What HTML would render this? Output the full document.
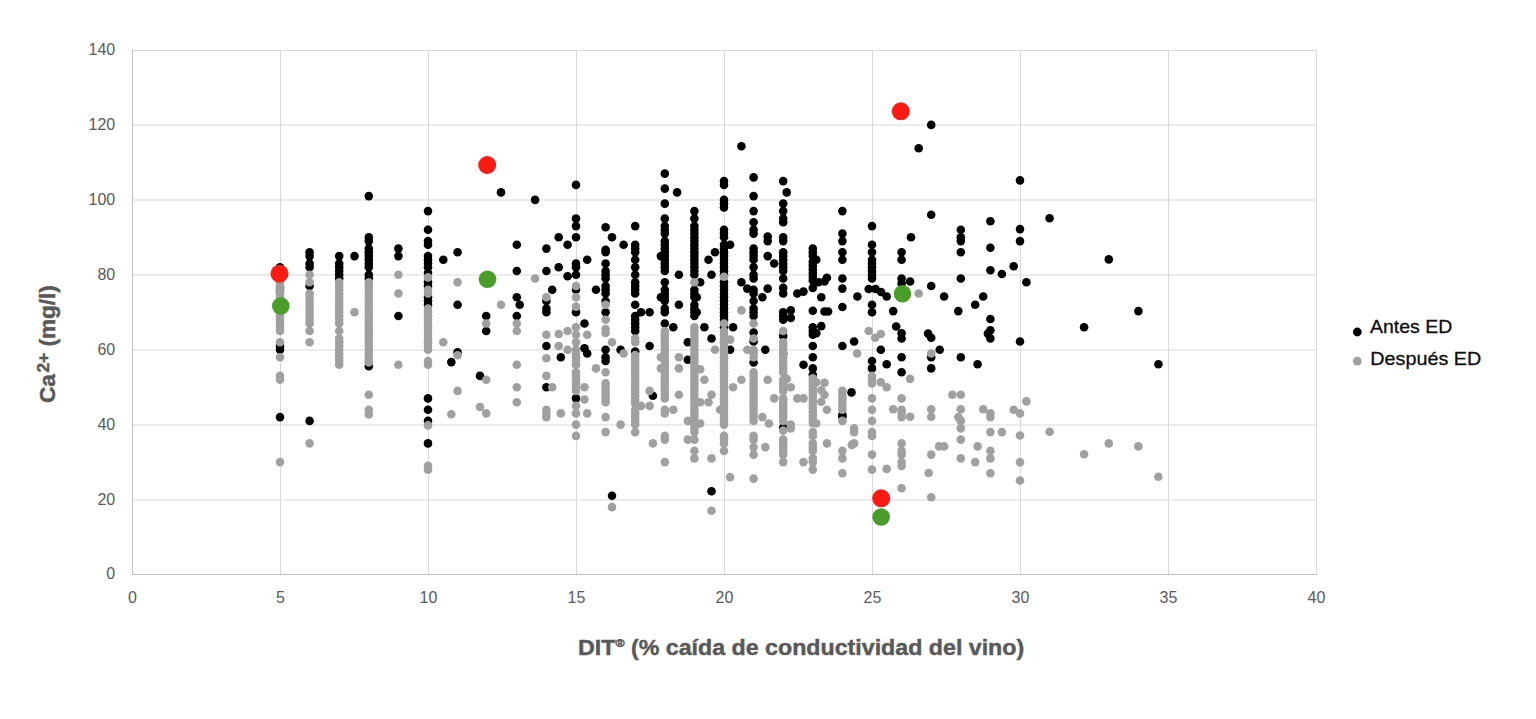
<!DOCTYPE html>
<html><head><meta charset="utf-8"><title>chart</title>
<style>
html,body{margin:0;padding:0;background:#fff;}
body{width:1536px;height:719px;overflow:hidden;font-family:"Liberation Sans",sans-serif;}
svg{display:block}
text{font-family:"Liberation Sans",sans-serif;}
.tk{font-size:16px;fill:#595959;}
.ttl{font-size:21.5px;font-weight:bold;fill:#595959;stroke:#595959;stroke-width:0.45px;}
.lg{font-size:19px;fill:#0d0d0d;stroke:#0d0d0d;stroke-width:0.3px;}
</style></head><body>
<svg width="1536" height="719" viewBox="0 0 1536 719">
<rect width="1536" height="719" fill="#fff"/>

<line x1="132.5" x2="1316.5" y1="574.50" y2="574.50" stroke="#d9d9d9" stroke-width="1"/>
<line x1="132.5" x2="1316.5" y1="500.00" y2="500.00" stroke="#d9d9d9" stroke-width="1"/>
<line x1="132.5" x2="1316.5" y1="425.00" y2="425.00" stroke="#d9d9d9" stroke-width="1"/>
<line x1="132.5" x2="1316.5" y1="350.00" y2="350.00" stroke="#d9d9d9" stroke-width="1"/>
<line x1="132.5" x2="1316.5" y1="275.00" y2="275.00" stroke="#d9d9d9" stroke-width="1"/>
<line x1="132.5" x2="1316.5" y1="200.00" y2="200.00" stroke="#d9d9d9" stroke-width="1"/>
<line x1="132.5" x2="1316.5" y1="125.00" y2="125.00" stroke="#d9d9d9" stroke-width="1"/>
<line x1="132.5" x2="1316.5" y1="50.50" y2="50.50" stroke="#d9d9d9" stroke-width="1"/>
<line x1="132.50" x2="132.50" y1="50.0" y2="574.5" stroke="#d9d9d9" stroke-width="1"/>
<line x1="280.50" x2="280.50" y1="50.0" y2="574.5" stroke="#d9d9d9" stroke-width="1"/>
<line x1="428.50" x2="428.50" y1="50.0" y2="574.5" stroke="#d9d9d9" stroke-width="1"/>
<line x1="576.50" x2="576.50" y1="50.0" y2="574.5" stroke="#d9d9d9" stroke-width="1"/>
<line x1="724.50" x2="724.50" y1="50.0" y2="574.5" stroke="#d9d9d9" stroke-width="1"/>
<line x1="872.50" x2="872.50" y1="50.0" y2="574.5" stroke="#d9d9d9" stroke-width="1"/>
<line x1="1020.50" x2="1020.50" y1="50.0" y2="574.5" stroke="#d9d9d9" stroke-width="1"/>
<line x1="1168.50" x2="1168.50" y1="50.0" y2="574.5" stroke="#d9d9d9" stroke-width="1"/>
<line x1="1316.50" x2="1316.50" y1="50.0" y2="574.5" stroke="#d9d9d9" stroke-width="1"/>
<line x1="132.5" x2="132.5" y1="50.0" y2="574.5" stroke="#bfbfbf" stroke-width="1"/>
<line x1="132.5" x2="1316.5" y1="574.5" y2="574.5" stroke="#bfbfbf" stroke-width="1"/>
<text class="tk" x="115.2" y="579.2" text-anchor="end">0</text>
<text class="tk" x="115.2" y="504.7" text-anchor="end">20</text>
<text class="tk" x="115.2" y="429.7" text-anchor="end">40</text>
<text class="tk" x="115.2" y="354.7" text-anchor="end">60</text>
<text class="tk" x="115.2" y="279.7" text-anchor="end">80</text>
<text class="tk" x="115.2" y="204.7" text-anchor="end">100</text>
<text class="tk" x="115.2" y="129.7" text-anchor="end">120</text>
<text class="tk" x="115.2" y="55.2" text-anchor="end">140</text>
<text class="tk" x="132.5" y="603" text-anchor="middle">0</text>
<text class="tk" x="280.5" y="603" text-anchor="middle">5</text>
<text class="tk" x="428.5" y="603" text-anchor="middle">10</text>
<text class="tk" x="576.5" y="603" text-anchor="middle">15</text>
<text class="tk" x="724.5" y="603" text-anchor="middle">20</text>
<text class="tk" x="872.5" y="603" text-anchor="middle">25</text>
<text class="tk" x="1020.5" y="603" text-anchor="middle">30</text>
<text class="tk" x="1168.5" y="603" text-anchor="middle">35</text>
<text class="tk" x="1316.5" y="603" text-anchor="middle">40</text>
<g fill="#000">
<circle cx="280.0" cy="267.3" r="4.3"/>
<circle cx="280.0" cy="287.9" r="4.3"/>
<circle cx="280.0" cy="291.6" r="4.3"/>
<circle cx="280.0" cy="346.0" r="4.3"/>
<circle cx="280.0" cy="349.7" r="4.3"/>
<circle cx="280.0" cy="417.1" r="4.3"/>
<circle cx="309.6" cy="252.3" r="4.3"/>
<circle cx="309.6" cy="256.1" r="4.3"/>
<circle cx="309.6" cy="263.5" r="4.3"/>
<circle cx="309.6" cy="267.3" r="4.3"/>
<circle cx="309.6" cy="286.0" r="4.3"/>
<circle cx="309.6" cy="420.9" r="4.3"/>
<circle cx="339.2" cy="256.1" r="4.3"/>
<circle cx="339.2" cy="263.5" r="4.3"/>
<circle cx="339.2" cy="267.3" r="4.3"/>
<circle cx="339.2" cy="271.0" r="4.3"/>
<circle cx="339.2" cy="274.8" r="4.3"/>
<circle cx="339.2" cy="278.5" r="4.3"/>
<circle cx="354.5" cy="256.1" r="4.3"/>
<circle cx="368.8" cy="196.1" r="4.3"/>
<circle cx="368.8" cy="237.3" r="4.3"/>
<circle cx="368.8" cy="241.1" r="4.3"/>
<circle cx="368.8" cy="248.6" r="4.3"/>
<circle cx="368.8" cy="252.3" r="4.3"/>
<circle cx="368.8" cy="256.1" r="4.3"/>
<circle cx="368.8" cy="259.8" r="4.3"/>
<circle cx="368.8" cy="263.5" r="4.3"/>
<circle cx="368.8" cy="267.3" r="4.3"/>
<circle cx="368.8" cy="274.8" r="4.3"/>
<circle cx="368.8" cy="278.5" r="4.3"/>
<circle cx="368.8" cy="366.2" r="4.3"/>
<circle cx="398.4" cy="248.6" r="4.3"/>
<circle cx="398.4" cy="256.1" r="4.3"/>
<circle cx="398.4" cy="316.0" r="4.3"/>
<circle cx="428.0" cy="211.1" r="4.3"/>
<circle cx="428.0" cy="229.8" r="4.3"/>
<circle cx="428.0" cy="241.1" r="4.3"/>
<circle cx="428.0" cy="244.8" r="4.3"/>
<circle cx="428.0" cy="256.1" r="4.3"/>
<circle cx="428.0" cy="259.8" r="4.3"/>
<circle cx="428.0" cy="263.5" r="4.3"/>
<circle cx="428.0" cy="267.3" r="4.3"/>
<circle cx="428.0" cy="272.9" r="4.3"/>
<circle cx="428.0" cy="282.3" r="4.3"/>
<circle cx="428.0" cy="286.0" r="4.3"/>
<circle cx="428.0" cy="297.3" r="4.3"/>
<circle cx="428.0" cy="301.0" r="4.3"/>
<circle cx="428.0" cy="304.8" r="4.3"/>
<circle cx="428.0" cy="398.4" r="4.3"/>
<circle cx="428.0" cy="409.7" r="4.3"/>
<circle cx="428.0" cy="420.9" r="4.3"/>
<circle cx="428.0" cy="443.4" r="4.3"/>
<circle cx="443.3" cy="259.8" r="4.3"/>
<circle cx="457.6" cy="252.3" r="4.3"/>
<circle cx="457.6" cy="304.8" r="4.3"/>
<circle cx="457.6" cy="352.3" r="4.3"/>
<circle cx="451.3" cy="362.1" r="4.3"/>
<circle cx="480.0" cy="375.9" r="4.3"/>
<circle cx="486.2" cy="316.0" r="4.3"/>
<circle cx="486.2" cy="331.0" r="4.3"/>
<circle cx="501.0" cy="192.4" r="4.3"/>
<circle cx="516.8" cy="244.8" r="4.3"/>
<circle cx="516.8" cy="271.0" r="4.3"/>
<circle cx="516.8" cy="297.3" r="4.3"/>
<circle cx="516.8" cy="316.0" r="4.3"/>
<circle cx="519.7" cy="304.8" r="4.3"/>
<circle cx="535.1" cy="199.9" r="4.3"/>
<circle cx="546.4" cy="248.6" r="4.3"/>
<circle cx="546.4" cy="271.0" r="4.3"/>
<circle cx="546.4" cy="301.0" r="4.3"/>
<circle cx="546.4" cy="308.5" r="4.3"/>
<circle cx="546.4" cy="312.2" r="4.3"/>
<circle cx="546.4" cy="346.0" r="4.3"/>
<circle cx="552.2" cy="289.8" r="4.3"/>
<circle cx="558.7" cy="237.3" r="4.3"/>
<circle cx="558.7" cy="267.3" r="4.3"/>
<circle cx="567.6" cy="244.8" r="4.3"/>
<circle cx="567.6" cy="276.3" r="4.3"/>
<circle cx="560.8" cy="357.2" r="4.3"/>
<circle cx="576.0" cy="184.9" r="4.3"/>
<circle cx="576.0" cy="218.6" r="4.3"/>
<circle cx="576.0" cy="226.1" r="4.3"/>
<circle cx="576.0" cy="237.3" r="4.3"/>
<circle cx="576.0" cy="263.5" r="4.3"/>
<circle cx="576.0" cy="267.3" r="4.3"/>
<circle cx="576.0" cy="274.8" r="4.3"/>
<circle cx="576.0" cy="289.8" r="4.3"/>
<circle cx="576.0" cy="312.2" r="4.3"/>
<circle cx="576.0" cy="398.4" r="4.3"/>
<circle cx="584.5" cy="323.5" r="4.3"/>
<circle cx="584.5" cy="348.2" r="4.3"/>
<circle cx="587.2" cy="259.8" r="4.3"/>
<circle cx="587.2" cy="353.5" r="4.3"/>
<circle cx="596.0" cy="289.8" r="4.3"/>
<circle cx="605.6" cy="227.2" r="4.3"/>
<circle cx="605.6" cy="249.7" r="4.3"/>
<circle cx="605.6" cy="252.3" r="4.3"/>
<circle cx="605.6" cy="263.5" r="4.3"/>
<circle cx="605.6" cy="271.0" r="4.3"/>
<circle cx="605.6" cy="274.8" r="4.3"/>
<circle cx="605.6" cy="278.5" r="4.3"/>
<circle cx="605.6" cy="286.0" r="4.3"/>
<circle cx="605.6" cy="289.8" r="4.3"/>
<circle cx="605.6" cy="293.5" r="4.3"/>
<circle cx="605.6" cy="301.0" r="4.3"/>
<circle cx="605.6" cy="312.2" r="4.3"/>
<circle cx="605.6" cy="349.7" r="4.3"/>
<circle cx="605.6" cy="357.2" r="4.3"/>
<circle cx="605.6" cy="361.0" r="4.3"/>
<circle cx="612.0" cy="237.3" r="4.3"/>
<circle cx="612.0" cy="495.8" r="4.3"/>
<circle cx="620.6" cy="349.7" r="4.3"/>
<circle cx="623.6" cy="244.8" r="4.3"/>
<circle cx="635.2" cy="226.1" r="4.3"/>
<circle cx="635.2" cy="244.8" r="4.3"/>
<circle cx="635.2" cy="248.6" r="4.3"/>
<circle cx="635.2" cy="252.3" r="4.3"/>
<circle cx="635.2" cy="259.8" r="4.3"/>
<circle cx="635.2" cy="267.3" r="4.3"/>
<circle cx="635.2" cy="274.8" r="4.3"/>
<circle cx="635.2" cy="282.3" r="4.3"/>
<circle cx="635.2" cy="286.0" r="4.3"/>
<circle cx="635.2" cy="289.8" r="4.3"/>
<circle cx="635.2" cy="293.5" r="4.3"/>
<circle cx="635.2" cy="304.8" r="4.3"/>
<circle cx="635.2" cy="316.0" r="4.3"/>
<circle cx="635.2" cy="319.7" r="4.3"/>
<circle cx="635.2" cy="323.5" r="4.3"/>
<circle cx="635.2" cy="327.2" r="4.3"/>
<circle cx="635.2" cy="331.0" r="4.3"/>
<circle cx="635.2" cy="351.6" r="4.3"/>
<circle cx="641.0" cy="312.2" r="4.3"/>
<circle cx="649.6" cy="312.2" r="4.3"/>
<circle cx="649.6" cy="346.0" r="4.3"/>
<circle cx="652.9" cy="395.8" r="4.3"/>
<circle cx="664.8" cy="173.6" r="4.3"/>
<circle cx="664.8" cy="188.6" r="4.3"/>
<circle cx="664.8" cy="203.6" r="4.3"/>
<circle cx="664.8" cy="218.6" r="4.3"/>
<circle cx="664.8" cy="226.1" r="4.3"/>
<circle cx="664.8" cy="229.8" r="4.3"/>
<circle cx="664.8" cy="233.6" r="4.3"/>
<circle cx="664.8" cy="241.1" r="4.3"/>
<circle cx="664.8" cy="244.8" r="4.3"/>
<circle cx="664.8" cy="248.6" r="4.3"/>
<circle cx="664.8" cy="252.3" r="4.3"/>
<circle cx="664.8" cy="256.1" r="4.3"/>
<circle cx="664.8" cy="259.8" r="4.3"/>
<circle cx="664.8" cy="263.5" r="4.3"/>
<circle cx="664.8" cy="267.3" r="4.3"/>
<circle cx="664.8" cy="271.0" r="4.3"/>
<circle cx="664.8" cy="282.3" r="4.3"/>
<circle cx="664.8" cy="289.8" r="4.3"/>
<circle cx="664.8" cy="293.5" r="4.3"/>
<circle cx="664.8" cy="297.3" r="4.3"/>
<circle cx="664.8" cy="301.0" r="4.3"/>
<circle cx="664.8" cy="308.5" r="4.3"/>
<circle cx="664.8" cy="312.2" r="4.3"/>
<circle cx="664.8" cy="323.5" r="4.3"/>
<circle cx="660.9" cy="256.1" r="4.3"/>
<circle cx="660.9" cy="297.3" r="4.3"/>
<circle cx="677.1" cy="192.4" r="4.3"/>
<circle cx="673.3" cy="327.2" r="4.3"/>
<circle cx="678.9" cy="274.8" r="4.3"/>
<circle cx="678.9" cy="304.8" r="4.3"/>
<circle cx="687.8" cy="342.2" r="4.3"/>
<circle cx="687.8" cy="359.8" r="4.3"/>
<circle cx="694.4" cy="211.1" r="4.3"/>
<circle cx="694.4" cy="218.6" r="4.3"/>
<circle cx="694.4" cy="226.1" r="4.3"/>
<circle cx="694.4" cy="229.8" r="4.3"/>
<circle cx="694.4" cy="233.6" r="4.3"/>
<circle cx="694.4" cy="237.3" r="4.3"/>
<circle cx="694.4" cy="241.1" r="4.3"/>
<circle cx="694.4" cy="244.8" r="4.3"/>
<circle cx="694.4" cy="248.6" r="4.3"/>
<circle cx="694.4" cy="252.3" r="4.3"/>
<circle cx="694.4" cy="256.1" r="4.3"/>
<circle cx="694.4" cy="259.8" r="4.3"/>
<circle cx="694.4" cy="263.5" r="4.3"/>
<circle cx="694.4" cy="267.3" r="4.3"/>
<circle cx="694.4" cy="271.0" r="4.3"/>
<circle cx="694.4" cy="274.8" r="4.3"/>
<circle cx="694.4" cy="289.8" r="4.3"/>
<circle cx="694.4" cy="293.5" r="4.3"/>
<circle cx="694.4" cy="297.3" r="4.3"/>
<circle cx="694.4" cy="304.8" r="4.3"/>
<circle cx="694.4" cy="308.5" r="4.3"/>
<circle cx="694.4" cy="312.2" r="4.3"/>
<circle cx="694.4" cy="316.0" r="4.3"/>
<circle cx="696.7" cy="297.3" r="4.3"/>
<circle cx="696.7" cy="312.2" r="4.3"/>
<circle cx="700.2" cy="282.3" r="4.3"/>
<circle cx="704.4" cy="327.2" r="4.3"/>
<circle cx="708.5" cy="259.8" r="4.3"/>
<circle cx="711.5" cy="274.8" r="4.3"/>
<circle cx="711.5" cy="338.5" r="4.3"/>
<circle cx="711.5" cy="491.3" r="4.3"/>
<circle cx="715.0" cy="252.3" r="4.3"/>
<circle cx="724.0" cy="181.1" r="4.3"/>
<circle cx="724.0" cy="184.9" r="4.3"/>
<circle cx="724.0" cy="199.9" r="4.3"/>
<circle cx="724.0" cy="203.6" r="4.3"/>
<circle cx="724.0" cy="207.4" r="4.3"/>
<circle cx="724.0" cy="229.8" r="4.3"/>
<circle cx="724.0" cy="233.6" r="4.3"/>
<circle cx="724.0" cy="237.3" r="4.3"/>
<circle cx="724.0" cy="244.8" r="4.3"/>
<circle cx="724.0" cy="248.6" r="4.3"/>
<circle cx="724.0" cy="252.3" r="4.3"/>
<circle cx="724.0" cy="256.1" r="4.3"/>
<circle cx="724.0" cy="259.8" r="4.3"/>
<circle cx="724.0" cy="263.5" r="4.3"/>
<circle cx="724.0" cy="267.3" r="4.3"/>
<circle cx="724.0" cy="271.0" r="4.3"/>
<circle cx="724.0" cy="274.8" r="4.3"/>
<circle cx="724.0" cy="282.3" r="4.3"/>
<circle cx="724.0" cy="286.0" r="4.3"/>
<circle cx="724.0" cy="289.8" r="4.3"/>
<circle cx="724.0" cy="293.5" r="4.3"/>
<circle cx="724.0" cy="297.3" r="4.3"/>
<circle cx="724.0" cy="301.0" r="4.3"/>
<circle cx="724.0" cy="304.8" r="4.3"/>
<circle cx="724.0" cy="308.5" r="4.3"/>
<circle cx="724.0" cy="312.2" r="4.3"/>
<circle cx="724.0" cy="316.0" r="4.3"/>
<circle cx="724.0" cy="319.7" r="4.3"/>
<circle cx="724.0" cy="327.2" r="4.3"/>
<circle cx="730.1" cy="244.8" r="4.3"/>
<circle cx="730.1" cy="349.7" r="4.3"/>
<circle cx="733.1" cy="327.2" r="4.3"/>
<circle cx="741.4" cy="146.3" r="4.3"/>
<circle cx="741.4" cy="282.3" r="4.3"/>
<circle cx="747.3" cy="288.6" r="4.3"/>
<circle cx="753.6" cy="177.4" r="4.3"/>
<circle cx="753.6" cy="196.1" r="4.3"/>
<circle cx="753.6" cy="211.1" r="4.3"/>
<circle cx="753.6" cy="222.3" r="4.3"/>
<circle cx="753.6" cy="229.8" r="4.3"/>
<circle cx="753.6" cy="233.6" r="4.3"/>
<circle cx="753.6" cy="248.6" r="4.3"/>
<circle cx="753.6" cy="252.3" r="4.3"/>
<circle cx="753.6" cy="256.1" r="4.3"/>
<circle cx="753.6" cy="259.8" r="4.3"/>
<circle cx="753.6" cy="267.3" r="4.3"/>
<circle cx="753.6" cy="274.8" r="4.3"/>
<circle cx="753.6" cy="278.5" r="4.3"/>
<circle cx="753.6" cy="289.8" r="4.3"/>
<circle cx="753.6" cy="293.5" r="4.3"/>
<circle cx="753.6" cy="301.0" r="4.3"/>
<circle cx="753.6" cy="308.5" r="4.3"/>
<circle cx="753.6" cy="312.2" r="4.3"/>
<circle cx="753.6" cy="316.0" r="4.3"/>
<circle cx="753.6" cy="332.5" r="4.3"/>
<circle cx="753.6" cy="341.5" r="4.3"/>
<circle cx="753.6" cy="362.5" r="4.3"/>
<circle cx="762.4" cy="297.3" r="4.3"/>
<circle cx="767.7" cy="236.6" r="4.3"/>
<circle cx="767.7" cy="241.1" r="4.3"/>
<circle cx="767.7" cy="256.1" r="4.3"/>
<circle cx="767.7" cy="288.6" r="4.3"/>
<circle cx="774.2" cy="263.5" r="4.3"/>
<circle cx="765.3" cy="349.7" r="4.3"/>
<circle cx="783.2" cy="181.1" r="4.3"/>
<circle cx="783.2" cy="203.6" r="4.3"/>
<circle cx="783.2" cy="211.1" r="4.3"/>
<circle cx="783.2" cy="218.6" r="4.3"/>
<circle cx="783.2" cy="222.3" r="4.3"/>
<circle cx="783.2" cy="237.3" r="4.3"/>
<circle cx="783.2" cy="241.1" r="4.3"/>
<circle cx="783.2" cy="252.3" r="4.3"/>
<circle cx="783.2" cy="256.1" r="4.3"/>
<circle cx="783.2" cy="259.8" r="4.3"/>
<circle cx="783.2" cy="263.5" r="4.3"/>
<circle cx="783.2" cy="267.3" r="4.3"/>
<circle cx="783.2" cy="271.0" r="4.3"/>
<circle cx="783.2" cy="278.5" r="4.3"/>
<circle cx="783.2" cy="287.9" r="4.3"/>
<circle cx="783.2" cy="293.5" r="4.3"/>
<circle cx="783.2" cy="312.2" r="4.3"/>
<circle cx="783.2" cy="316.0" r="4.3"/>
<circle cx="783.2" cy="319.7" r="4.3"/>
<circle cx="783.2" cy="335.9" r="4.3"/>
<circle cx="783.2" cy="353.5" r="4.3"/>
<circle cx="783.2" cy="427.6" r="4.3"/>
<circle cx="786.7" cy="192.4" r="4.3"/>
<circle cx="790.8" cy="310.4" r="4.3"/>
<circle cx="790.8" cy="317.9" r="4.3"/>
<circle cx="797.3" cy="293.5" r="4.3"/>
<circle cx="803.5" cy="291.6" r="4.3"/>
<circle cx="803.5" cy="364.7" r="4.3"/>
<circle cx="812.8" cy="248.6" r="4.3"/>
<circle cx="812.8" cy="252.3" r="4.3"/>
<circle cx="812.8" cy="256.1" r="4.3"/>
<circle cx="812.8" cy="261.7" r="4.3"/>
<circle cx="812.8" cy="265.4" r="4.3"/>
<circle cx="812.8" cy="269.2" r="4.3"/>
<circle cx="812.8" cy="272.9" r="4.3"/>
<circle cx="812.8" cy="276.7" r="4.3"/>
<circle cx="812.8" cy="280.4" r="4.3"/>
<circle cx="812.8" cy="287.9" r="4.3"/>
<circle cx="812.8" cy="310.8" r="4.3"/>
<circle cx="812.8" cy="327.2" r="4.3"/>
<circle cx="812.8" cy="331.0" r="4.3"/>
<circle cx="812.8" cy="334.7" r="4.3"/>
<circle cx="812.8" cy="346.0" r="4.3"/>
<circle cx="812.8" cy="357.2" r="4.3"/>
<circle cx="812.8" cy="368.4" r="4.3"/>
<circle cx="812.8" cy="374.8" r="4.3"/>
<circle cx="816.3" cy="259.8" r="4.3"/>
<circle cx="816.3" cy="333.2" r="4.3"/>
<circle cx="818.6" cy="282.3" r="4.3"/>
<circle cx="821.3" cy="297.3" r="4.3"/>
<circle cx="821.3" cy="326.1" r="4.3"/>
<circle cx="824.5" cy="281.5" r="4.3"/>
<circle cx="824.5" cy="311.5" r="4.3"/>
<circle cx="826.9" cy="277.8" r="4.3"/>
<circle cx="828.1" cy="311.5" r="4.3"/>
<circle cx="842.4" cy="211.1" r="4.3"/>
<circle cx="842.4" cy="233.6" r="4.3"/>
<circle cx="842.4" cy="241.1" r="4.3"/>
<circle cx="842.4" cy="252.3" r="4.3"/>
<circle cx="842.4" cy="259.8" r="4.3"/>
<circle cx="842.4" cy="278.5" r="4.3"/>
<circle cx="842.4" cy="288.6" r="4.3"/>
<circle cx="842.4" cy="307.0" r="4.3"/>
<circle cx="842.4" cy="346.0" r="4.3"/>
<circle cx="842.4" cy="414.9" r="4.3"/>
<circle cx="842.4" cy="416.8" r="4.3"/>
<circle cx="851.5" cy="392.4" r="4.3"/>
<circle cx="854.1" cy="341.5" r="4.3"/>
<circle cx="857.4" cy="296.5" r="4.3"/>
<circle cx="872.0" cy="226.1" r="4.3"/>
<circle cx="872.0" cy="244.8" r="4.3"/>
<circle cx="872.0" cy="252.3" r="4.3"/>
<circle cx="872.0" cy="259.8" r="4.3"/>
<circle cx="872.0" cy="263.5" r="4.3"/>
<circle cx="872.0" cy="267.3" r="4.3"/>
<circle cx="872.0" cy="271.0" r="4.3"/>
<circle cx="872.0" cy="274.8" r="4.3"/>
<circle cx="872.0" cy="278.5" r="4.3"/>
<circle cx="872.0" cy="304.8" r="4.3"/>
<circle cx="872.0" cy="312.2" r="4.3"/>
<circle cx="872.0" cy="361.0" r="4.3"/>
<circle cx="872.0" cy="368.4" r="4.3"/>
<circle cx="868.7" cy="289.0" r="4.3"/>
<circle cx="875.5" cy="289.0" r="4.3"/>
<circle cx="880.8" cy="349.7" r="4.3"/>
<circle cx="881.1" cy="292.0" r="4.3"/>
<circle cx="886.7" cy="296.5" r="4.3"/>
<circle cx="886.7" cy="364.3" r="4.3"/>
<circle cx="893.2" cy="311.1" r="4.3"/>
<circle cx="896.2" cy="326.5" r="4.3"/>
<circle cx="901.6" cy="252.3" r="4.3"/>
<circle cx="901.6" cy="259.8" r="4.3"/>
<circle cx="901.6" cy="278.5" r="4.3"/>
<circle cx="901.6" cy="283.4" r="4.3"/>
<circle cx="901.6" cy="333.2" r="4.3"/>
<circle cx="901.6" cy="338.5" r="4.3"/>
<circle cx="901.6" cy="357.2" r="4.3"/>
<circle cx="901.6" cy="372.2" r="4.3"/>
<circle cx="910.1" cy="281.5" r="4.3"/>
<circle cx="911.0" cy="237.3" r="4.3"/>
<circle cx="918.7" cy="148.2" r="4.3"/>
<circle cx="931.2" cy="124.9" r="4.3"/>
<circle cx="931.2" cy="214.8" r="4.3"/>
<circle cx="931.2" cy="286.0" r="4.3"/>
<circle cx="931.2" cy="337.7" r="4.3"/>
<circle cx="931.2" cy="357.2" r="4.3"/>
<circle cx="931.2" cy="368.4" r="4.3"/>
<circle cx="928.1" cy="333.6" r="4.3"/>
<circle cx="939.7" cy="349.7" r="4.3"/>
<circle cx="944.1" cy="296.5" r="4.3"/>
<circle cx="960.8" cy="229.8" r="4.3"/>
<circle cx="960.8" cy="237.3" r="4.3"/>
<circle cx="960.8" cy="241.1" r="4.3"/>
<circle cx="960.8" cy="252.3" r="4.3"/>
<circle cx="960.8" cy="278.5" r="4.3"/>
<circle cx="960.8" cy="357.2" r="4.3"/>
<circle cx="958.3" cy="311.1" r="4.3"/>
<circle cx="975.2" cy="304.8" r="4.3"/>
<circle cx="977.6" cy="364.3" r="4.3"/>
<circle cx="983.2" cy="296.5" r="4.3"/>
<circle cx="990.4" cy="221.2" r="4.3"/>
<circle cx="990.4" cy="247.8" r="4.3"/>
<circle cx="990.4" cy="270.3" r="4.3"/>
<circle cx="990.4" cy="319.0" r="4.3"/>
<circle cx="990.4" cy="330.2" r="4.3"/>
<circle cx="990.4" cy="338.5" r="4.3"/>
<circle cx="987.9" cy="333.6" r="4.3"/>
<circle cx="1001.9" cy="274.0" r="4.3"/>
<circle cx="1020.0" cy="180.4" r="4.3"/>
<circle cx="1020.0" cy="229.1" r="4.3"/>
<circle cx="1020.0" cy="241.1" r="4.3"/>
<circle cx="1020.0" cy="341.5" r="4.3"/>
<circle cx="1013.7" cy="266.2" r="4.3"/>
<circle cx="1026.4" cy="282.3" r="4.3"/>
<circle cx="1049.6" cy="218.2" r="4.3"/>
<circle cx="1084.1" cy="327.2" r="4.3"/>
<circle cx="1108.8" cy="259.4" r="4.3"/>
<circle cx="1138.4" cy="311.1" r="4.3"/>
<circle cx="1158.4" cy="364.3" r="4.3"/>
<circle cx="546.4" cy="387.2" r="4.3"/>
</g><g fill="#a0a0a0">
<circle cx="280.0" cy="282.3" r="4.3"/>
<circle cx="280.0" cy="286.0" r="4.3"/>
<circle cx="280.0" cy="289.8" r="4.3"/>
<circle cx="280.0" cy="293.5" r="4.3"/>
<circle cx="280.0" cy="297.3" r="4.3"/>
<circle cx="280.0" cy="301.0" r="4.3"/>
<circle cx="280.0" cy="304.8" r="4.3"/>
<circle cx="280.0" cy="308.5" r="4.3"/>
<circle cx="280.0" cy="312.2" r="4.3"/>
<circle cx="280.0" cy="316.0" r="4.3"/>
<circle cx="280.0" cy="319.7" r="4.3"/>
<circle cx="280.0" cy="323.5" r="4.3"/>
<circle cx="280.0" cy="327.2" r="4.3"/>
<circle cx="280.0" cy="331.0" r="4.3"/>
<circle cx="280.0" cy="342.2" r="4.3"/>
<circle cx="280.0" cy="357.2" r="4.3"/>
<circle cx="280.0" cy="375.9" r="4.3"/>
<circle cx="280.0" cy="379.7" r="4.3"/>
<circle cx="280.0" cy="462.1" r="4.3"/>
<circle cx="309.6" cy="274.8" r="4.3"/>
<circle cx="309.6" cy="282.3" r="4.3"/>
<circle cx="309.6" cy="293.5" r="4.3"/>
<circle cx="309.6" cy="297.3" r="4.3"/>
<circle cx="309.6" cy="301.0" r="4.3"/>
<circle cx="309.6" cy="304.8" r="4.3"/>
<circle cx="309.6" cy="308.5" r="4.3"/>
<circle cx="309.6" cy="312.2" r="4.3"/>
<circle cx="309.6" cy="316.0" r="4.3"/>
<circle cx="309.6" cy="319.7" r="4.3"/>
<circle cx="309.6" cy="323.5" r="4.3"/>
<circle cx="309.6" cy="331.0" r="4.3"/>
<circle cx="309.6" cy="342.2" r="4.3"/>
<circle cx="309.6" cy="443.4" r="4.3"/>
<circle cx="339.2" cy="282.3" r="4.3"/>
<circle cx="339.2" cy="286.0" r="4.3"/>
<circle cx="339.2" cy="289.8" r="4.3"/>
<circle cx="339.2" cy="293.5" r="4.3"/>
<circle cx="339.2" cy="297.3" r="4.3"/>
<circle cx="339.2" cy="301.0" r="4.3"/>
<circle cx="339.2" cy="304.8" r="4.3"/>
<circle cx="339.2" cy="308.5" r="4.3"/>
<circle cx="339.2" cy="312.2" r="4.3"/>
<circle cx="339.2" cy="316.0" r="4.3"/>
<circle cx="339.2" cy="319.7" r="4.3"/>
<circle cx="339.2" cy="323.5" r="4.3"/>
<circle cx="339.2" cy="331.0" r="4.3"/>
<circle cx="339.2" cy="338.5" r="4.3"/>
<circle cx="339.2" cy="342.2" r="4.3"/>
<circle cx="339.2" cy="346.0" r="4.3"/>
<circle cx="339.2" cy="349.7" r="4.3"/>
<circle cx="339.2" cy="353.5" r="4.3"/>
<circle cx="339.2" cy="357.2" r="4.3"/>
<circle cx="339.2" cy="361.0" r="4.3"/>
<circle cx="339.2" cy="364.7" r="4.3"/>
<circle cx="354.5" cy="312.2" r="4.3"/>
<circle cx="368.8" cy="282.3" r="4.3"/>
<circle cx="368.8" cy="286.0" r="4.3"/>
<circle cx="368.8" cy="289.8" r="4.3"/>
<circle cx="368.8" cy="293.5" r="4.3"/>
<circle cx="368.8" cy="297.3" r="4.3"/>
<circle cx="368.8" cy="301.0" r="4.3"/>
<circle cx="368.8" cy="304.8" r="4.3"/>
<circle cx="368.8" cy="308.5" r="4.3"/>
<circle cx="368.8" cy="312.2" r="4.3"/>
<circle cx="368.8" cy="316.0" r="4.3"/>
<circle cx="368.8" cy="319.7" r="4.3"/>
<circle cx="368.8" cy="323.5" r="4.3"/>
<circle cx="368.8" cy="327.2" r="4.3"/>
<circle cx="368.8" cy="331.0" r="4.3"/>
<circle cx="368.8" cy="334.7" r="4.3"/>
<circle cx="368.8" cy="338.5" r="4.3"/>
<circle cx="368.8" cy="342.2" r="4.3"/>
<circle cx="368.8" cy="346.0" r="4.3"/>
<circle cx="368.8" cy="349.7" r="4.3"/>
<circle cx="368.8" cy="353.5" r="4.3"/>
<circle cx="368.8" cy="357.2" r="4.3"/>
<circle cx="368.8" cy="361.0" r="4.3"/>
<circle cx="368.8" cy="362.5" r="4.3"/>
<circle cx="368.8" cy="394.7" r="4.3"/>
<circle cx="368.8" cy="409.7" r="4.3"/>
<circle cx="368.8" cy="414.5" r="4.3"/>
<circle cx="398.4" cy="274.8" r="4.3"/>
<circle cx="398.4" cy="293.5" r="4.3"/>
<circle cx="398.4" cy="364.7" r="4.3"/>
<circle cx="428.0" cy="277.4" r="4.3"/>
<circle cx="428.0" cy="289.8" r="4.3"/>
<circle cx="428.0" cy="293.5" r="4.3"/>
<circle cx="428.0" cy="308.5" r="4.3"/>
<circle cx="428.0" cy="312.2" r="4.3"/>
<circle cx="428.0" cy="316.0" r="4.3"/>
<circle cx="428.0" cy="319.7" r="4.3"/>
<circle cx="428.0" cy="323.5" r="4.3"/>
<circle cx="428.0" cy="327.2" r="4.3"/>
<circle cx="428.0" cy="331.0" r="4.3"/>
<circle cx="428.0" cy="334.7" r="4.3"/>
<circle cx="428.0" cy="338.5" r="4.3"/>
<circle cx="428.0" cy="342.2" r="4.3"/>
<circle cx="428.0" cy="346.0" r="4.3"/>
<circle cx="428.0" cy="349.7" r="4.3"/>
<circle cx="428.0" cy="361.0" r="4.3"/>
<circle cx="428.0" cy="364.7" r="4.3"/>
<circle cx="428.0" cy="425.4" r="4.3"/>
<circle cx="428.0" cy="465.9" r="4.3"/>
<circle cx="428.0" cy="469.6" r="4.3"/>
<circle cx="443.3" cy="342.2" r="4.3"/>
<circle cx="457.6" cy="282.3" r="4.3"/>
<circle cx="457.6" cy="355.3" r="4.3"/>
<circle cx="457.6" cy="390.9" r="4.3"/>
<circle cx="451.3" cy="414.2" r="4.3"/>
<circle cx="480.0" cy="407.0" r="4.3"/>
<circle cx="486.2" cy="323.5" r="4.3"/>
<circle cx="486.2" cy="379.7" r="4.3"/>
<circle cx="486.2" cy="413.4" r="4.3"/>
<circle cx="501.0" cy="304.8" r="4.3"/>
<circle cx="516.8" cy="323.5" r="4.3"/>
<circle cx="516.8" cy="331.0" r="4.3"/>
<circle cx="516.8" cy="364.7" r="4.3"/>
<circle cx="516.8" cy="387.2" r="4.3"/>
<circle cx="516.8" cy="402.2" r="4.3"/>
<circle cx="535.1" cy="278.5" r="4.3"/>
<circle cx="546.4" cy="297.3" r="4.3"/>
<circle cx="546.4" cy="334.7" r="4.3"/>
<circle cx="546.4" cy="358.3" r="4.3"/>
<circle cx="558.7" cy="334.0" r="4.3"/>
<circle cx="558.7" cy="346.0" r="4.3"/>
<circle cx="567.6" cy="331.0" r="4.3"/>
<circle cx="567.6" cy="349.7" r="4.3"/>
<circle cx="576.0" cy="286.0" r="4.3"/>
<circle cx="576.0" cy="297.3" r="4.3"/>
<circle cx="576.0" cy="306.6" r="4.3"/>
<circle cx="576.0" cy="327.2" r="4.3"/>
<circle cx="576.0" cy="334.7" r="4.3"/>
<circle cx="576.0" cy="342.2" r="4.3"/>
<circle cx="576.0" cy="349.7" r="4.3"/>
<circle cx="576.0" cy="353.5" r="4.3"/>
<circle cx="576.0" cy="357.2" r="4.3"/>
<circle cx="576.0" cy="361.0" r="4.3"/>
<circle cx="576.0" cy="364.7" r="4.3"/>
<circle cx="576.0" cy="372.2" r="4.3"/>
<circle cx="576.0" cy="375.9" r="4.3"/>
<circle cx="576.0" cy="379.7" r="4.3"/>
<circle cx="576.0" cy="383.4" r="4.3"/>
<circle cx="576.0" cy="387.2" r="4.3"/>
<circle cx="576.0" cy="390.9" r="4.3"/>
<circle cx="576.0" cy="405.9" r="4.3"/>
<circle cx="576.0" cy="413.4" r="4.3"/>
<circle cx="576.0" cy="424.6" r="4.3"/>
<circle cx="576.0" cy="435.9" r="4.3"/>
<circle cx="587.2" cy="334.7" r="4.3"/>
<circle cx="587.2" cy="413.4" r="4.3"/>
<circle cx="584.5" cy="387.2" r="4.3"/>
<circle cx="584.5" cy="399.5" r="4.3"/>
<circle cx="596.0" cy="368.4" r="4.3"/>
<circle cx="605.6" cy="304.8" r="4.3"/>
<circle cx="605.6" cy="319.7" r="4.3"/>
<circle cx="605.6" cy="329.1" r="4.3"/>
<circle cx="605.6" cy="332.9" r="4.3"/>
<circle cx="605.6" cy="372.2" r="4.3"/>
<circle cx="605.6" cy="383.4" r="4.3"/>
<circle cx="605.6" cy="387.2" r="4.3"/>
<circle cx="605.6" cy="390.9" r="4.3"/>
<circle cx="605.6" cy="394.7" r="4.3"/>
<circle cx="605.6" cy="398.4" r="4.3"/>
<circle cx="605.6" cy="402.2" r="4.3"/>
<circle cx="605.6" cy="417.1" r="4.3"/>
<circle cx="605.6" cy="432.1" r="4.3"/>
<circle cx="612.0" cy="342.2" r="4.3"/>
<circle cx="612.0" cy="507.1" r="4.3"/>
<circle cx="620.6" cy="424.6" r="4.3"/>
<circle cx="623.6" cy="353.5" r="4.3"/>
<circle cx="635.2" cy="338.5" r="4.3"/>
<circle cx="635.2" cy="342.2" r="4.3"/>
<circle cx="635.2" cy="355.0" r="4.3"/>
<circle cx="635.2" cy="358.7" r="4.3"/>
<circle cx="635.2" cy="362.5" r="4.3"/>
<circle cx="635.2" cy="366.2" r="4.3"/>
<circle cx="635.2" cy="369.9" r="4.3"/>
<circle cx="635.2" cy="373.7" r="4.3"/>
<circle cx="635.2" cy="377.4" r="4.3"/>
<circle cx="635.2" cy="381.2" r="4.3"/>
<circle cx="635.2" cy="384.9" r="4.3"/>
<circle cx="635.2" cy="388.7" r="4.3"/>
<circle cx="635.2" cy="392.4" r="4.3"/>
<circle cx="635.2" cy="396.2" r="4.3"/>
<circle cx="635.2" cy="399.9" r="4.3"/>
<circle cx="635.2" cy="403.7" r="4.3"/>
<circle cx="635.2" cy="409.7" r="4.3"/>
<circle cx="635.2" cy="413.4" r="4.3"/>
<circle cx="635.2" cy="417.1" r="4.3"/>
<circle cx="635.2" cy="420.9" r="4.3"/>
<circle cx="635.2" cy="424.6" r="4.3"/>
<circle cx="635.2" cy="432.1" r="4.3"/>
<circle cx="641.0" cy="405.9" r="4.3"/>
<circle cx="649.6" cy="390.9" r="4.3"/>
<circle cx="649.6" cy="405.9" r="4.3"/>
<circle cx="652.9" cy="443.4" r="4.3"/>
<circle cx="664.8" cy="331.0" r="4.3"/>
<circle cx="664.8" cy="334.7" r="4.3"/>
<circle cx="664.8" cy="338.5" r="4.3"/>
<circle cx="664.8" cy="342.2" r="4.3"/>
<circle cx="664.8" cy="346.0" r="4.3"/>
<circle cx="664.8" cy="349.7" r="4.3"/>
<circle cx="664.8" cy="353.5" r="4.3"/>
<circle cx="664.8" cy="357.2" r="4.3"/>
<circle cx="664.8" cy="361.0" r="4.3"/>
<circle cx="664.8" cy="364.7" r="4.3"/>
<circle cx="664.8" cy="368.4" r="4.3"/>
<circle cx="664.8" cy="372.2" r="4.3"/>
<circle cx="664.8" cy="375.9" r="4.3"/>
<circle cx="664.8" cy="379.7" r="4.3"/>
<circle cx="664.8" cy="383.4" r="4.3"/>
<circle cx="664.8" cy="387.2" r="4.3"/>
<circle cx="664.8" cy="390.9" r="4.3"/>
<circle cx="664.8" cy="394.7" r="4.3"/>
<circle cx="664.8" cy="398.4" r="4.3"/>
<circle cx="664.8" cy="409.7" r="4.3"/>
<circle cx="664.8" cy="413.4" r="4.3"/>
<circle cx="664.8" cy="435.9" r="4.3"/>
<circle cx="664.8" cy="439.6" r="4.3"/>
<circle cx="664.8" cy="462.1" r="4.3"/>
<circle cx="660.9" cy="357.2" r="4.3"/>
<circle cx="660.9" cy="368.4" r="4.3"/>
<circle cx="673.3" cy="409.7" r="4.3"/>
<circle cx="678.9" cy="357.2" r="4.3"/>
<circle cx="678.9" cy="368.4" r="4.3"/>
<circle cx="678.9" cy="394.7" r="4.3"/>
<circle cx="687.8" cy="420.9" r="4.3"/>
<circle cx="687.8" cy="439.6" r="4.3"/>
<circle cx="694.4" cy="282.3" r="4.3"/>
<circle cx="694.4" cy="327.2" r="4.3"/>
<circle cx="694.4" cy="331.0" r="4.3"/>
<circle cx="694.4" cy="334.7" r="4.3"/>
<circle cx="694.4" cy="338.5" r="4.3"/>
<circle cx="694.4" cy="342.2" r="4.3"/>
<circle cx="694.4" cy="346.0" r="4.3"/>
<circle cx="694.4" cy="349.7" r="4.3"/>
<circle cx="694.4" cy="353.5" r="4.3"/>
<circle cx="694.4" cy="357.2" r="4.3"/>
<circle cx="694.4" cy="361.0" r="4.3"/>
<circle cx="694.4" cy="364.7" r="4.3"/>
<circle cx="694.4" cy="368.4" r="4.3"/>
<circle cx="694.4" cy="372.2" r="4.3"/>
<circle cx="694.4" cy="375.9" r="4.3"/>
<circle cx="694.4" cy="379.7" r="4.3"/>
<circle cx="694.4" cy="383.4" r="4.3"/>
<circle cx="694.4" cy="387.2" r="4.3"/>
<circle cx="694.4" cy="390.9" r="4.3"/>
<circle cx="694.4" cy="394.7" r="4.3"/>
<circle cx="694.4" cy="398.4" r="4.3"/>
<circle cx="694.4" cy="402.2" r="4.3"/>
<circle cx="694.4" cy="405.9" r="4.3"/>
<circle cx="694.4" cy="409.7" r="4.3"/>
<circle cx="694.4" cy="413.4" r="4.3"/>
<circle cx="694.4" cy="417.1" r="4.3"/>
<circle cx="694.4" cy="420.9" r="4.3"/>
<circle cx="694.4" cy="424.6" r="4.3"/>
<circle cx="694.4" cy="428.4" r="4.3"/>
<circle cx="694.4" cy="432.1" r="4.3"/>
<circle cx="694.4" cy="439.6" r="4.3"/>
<circle cx="694.4" cy="450.9" r="4.3"/>
<circle cx="694.4" cy="458.4" r="4.3"/>
<circle cx="700.2" cy="369.2" r="4.3"/>
<circle cx="700.2" cy="402.2" r="4.3"/>
<circle cx="700.2" cy="423.5" r="4.3"/>
<circle cx="704.4" cy="379.7" r="4.3"/>
<circle cx="708.5" cy="402.2" r="4.3"/>
<circle cx="711.5" cy="394.7" r="4.3"/>
<circle cx="711.5" cy="458.4" r="4.3"/>
<circle cx="711.5" cy="510.8" r="4.3"/>
<circle cx="715.0" cy="349.7" r="4.3"/>
<circle cx="724.0" cy="276.7" r="4.3"/>
<circle cx="724.0" cy="323.5" r="4.3"/>
<circle cx="724.0" cy="331.0" r="4.3"/>
<circle cx="724.0" cy="334.7" r="4.3"/>
<circle cx="724.0" cy="338.5" r="4.3"/>
<circle cx="724.0" cy="342.2" r="4.3"/>
<circle cx="724.0" cy="346.0" r="4.3"/>
<circle cx="724.0" cy="349.7" r="4.3"/>
<circle cx="724.0" cy="353.5" r="4.3"/>
<circle cx="724.0" cy="357.2" r="4.3"/>
<circle cx="724.0" cy="361.0" r="4.3"/>
<circle cx="724.0" cy="364.7" r="4.3"/>
<circle cx="724.0" cy="368.4" r="4.3"/>
<circle cx="724.0" cy="372.2" r="4.3"/>
<circle cx="724.0" cy="375.9" r="4.3"/>
<circle cx="724.0" cy="379.7" r="4.3"/>
<circle cx="724.0" cy="383.4" r="4.3"/>
<circle cx="724.0" cy="387.2" r="4.3"/>
<circle cx="724.0" cy="390.9" r="4.3"/>
<circle cx="724.0" cy="394.7" r="4.3"/>
<circle cx="724.0" cy="398.4" r="4.3"/>
<circle cx="724.0" cy="402.2" r="4.3"/>
<circle cx="724.0" cy="405.9" r="4.3"/>
<circle cx="724.0" cy="409.7" r="4.3"/>
<circle cx="724.0" cy="413.4" r="4.3"/>
<circle cx="724.0" cy="417.1" r="4.3"/>
<circle cx="724.0" cy="420.9" r="4.3"/>
<circle cx="724.0" cy="424.6" r="4.3"/>
<circle cx="724.0" cy="435.9" r="4.3"/>
<circle cx="724.0" cy="439.6" r="4.3"/>
<circle cx="724.0" cy="443.4" r="4.3"/>
<circle cx="724.0" cy="450.9" r="4.3"/>
<circle cx="720.1" cy="409.7" r="4.3"/>
<circle cx="730.1" cy="339.6" r="4.3"/>
<circle cx="730.1" cy="477.1" r="4.3"/>
<circle cx="733.1" cy="387.2" r="4.3"/>
<circle cx="741.4" cy="310.4" r="4.3"/>
<circle cx="741.4" cy="379.7" r="4.3"/>
<circle cx="747.3" cy="349.7" r="4.3"/>
<circle cx="753.6" cy="323.5" r="4.3"/>
<circle cx="753.6" cy="338.5" r="4.3"/>
<circle cx="753.6" cy="349.7" r="4.3"/>
<circle cx="753.6" cy="353.5" r="4.3"/>
<circle cx="753.6" cy="357.2" r="4.3"/>
<circle cx="753.6" cy="372.2" r="4.3"/>
<circle cx="753.6" cy="375.9" r="4.3"/>
<circle cx="753.6" cy="379.7" r="4.3"/>
<circle cx="753.6" cy="383.4" r="4.3"/>
<circle cx="753.6" cy="387.2" r="4.3"/>
<circle cx="753.6" cy="390.9" r="4.3"/>
<circle cx="753.6" cy="394.7" r="4.3"/>
<circle cx="753.6" cy="398.4" r="4.3"/>
<circle cx="753.6" cy="402.2" r="4.3"/>
<circle cx="753.6" cy="405.9" r="4.3"/>
<circle cx="753.6" cy="409.7" r="4.3"/>
<circle cx="753.6" cy="413.4" r="4.3"/>
<circle cx="753.6" cy="417.1" r="4.3"/>
<circle cx="753.6" cy="420.9" r="4.3"/>
<circle cx="753.6" cy="435.9" r="4.3"/>
<circle cx="753.6" cy="439.6" r="4.3"/>
<circle cx="753.6" cy="447.1" r="4.3"/>
<circle cx="753.6" cy="454.6" r="4.3"/>
<circle cx="753.6" cy="478.6" r="4.3"/>
<circle cx="762.4" cy="417.1" r="4.3"/>
<circle cx="767.7" cy="379.7" r="4.3"/>
<circle cx="774.2" cy="398.4" r="4.3"/>
<circle cx="765.3" cy="447.1" r="4.3"/>
<circle cx="768.9" cy="423.5" r="4.3"/>
<circle cx="783.2" cy="331.0" r="4.3"/>
<circle cx="783.2" cy="342.2" r="4.3"/>
<circle cx="783.2" cy="346.0" r="4.3"/>
<circle cx="783.2" cy="349.7" r="4.3"/>
<circle cx="783.2" cy="353.5" r="4.3"/>
<circle cx="783.2" cy="357.2" r="4.3"/>
<circle cx="783.2" cy="361.0" r="4.3"/>
<circle cx="783.2" cy="364.7" r="4.3"/>
<circle cx="783.2" cy="368.4" r="4.3"/>
<circle cx="783.2" cy="372.2" r="4.3"/>
<circle cx="783.2" cy="379.7" r="4.3"/>
<circle cx="783.2" cy="383.4" r="4.3"/>
<circle cx="783.2" cy="387.2" r="4.3"/>
<circle cx="783.2" cy="390.9" r="4.3"/>
<circle cx="783.2" cy="398.4" r="4.3"/>
<circle cx="783.2" cy="402.2" r="4.3"/>
<circle cx="783.2" cy="405.9" r="4.3"/>
<circle cx="783.2" cy="409.7" r="4.3"/>
<circle cx="783.2" cy="413.4" r="4.3"/>
<circle cx="783.2" cy="417.1" r="4.3"/>
<circle cx="783.2" cy="420.9" r="4.3"/>
<circle cx="783.2" cy="430.6" r="4.3"/>
<circle cx="783.2" cy="439.6" r="4.3"/>
<circle cx="783.2" cy="443.4" r="4.3"/>
<circle cx="783.2" cy="447.1" r="4.3"/>
<circle cx="783.2" cy="450.9" r="4.3"/>
<circle cx="783.2" cy="454.6" r="4.3"/>
<circle cx="783.2" cy="462.1" r="4.3"/>
<circle cx="786.7" cy="378.9" r="4.3"/>
<circle cx="790.8" cy="387.2" r="4.3"/>
<circle cx="790.8" cy="424.6" r="4.3"/>
<circle cx="790.8" cy="428.4" r="4.3"/>
<circle cx="797.3" cy="398.4" r="4.3"/>
<circle cx="803.5" cy="398.4" r="4.3"/>
<circle cx="803.5" cy="462.1" r="4.3"/>
<circle cx="812.8" cy="378.2" r="4.3"/>
<circle cx="812.8" cy="381.9" r="4.3"/>
<circle cx="812.8" cy="385.7" r="4.3"/>
<circle cx="812.8" cy="389.4" r="4.3"/>
<circle cx="812.8" cy="393.2" r="4.3"/>
<circle cx="812.8" cy="396.9" r="4.3"/>
<circle cx="812.8" cy="400.7" r="4.3"/>
<circle cx="812.8" cy="404.4" r="4.3"/>
<circle cx="812.8" cy="408.2" r="4.3"/>
<circle cx="812.8" cy="411.9" r="4.3"/>
<circle cx="812.8" cy="415.7" r="4.3"/>
<circle cx="812.8" cy="419.4" r="4.3"/>
<circle cx="812.8" cy="423.1" r="4.3"/>
<circle cx="812.8" cy="432.1" r="4.3"/>
<circle cx="812.8" cy="435.9" r="4.3"/>
<circle cx="812.8" cy="443.4" r="4.3"/>
<circle cx="812.8" cy="447.1" r="4.3"/>
<circle cx="812.8" cy="450.9" r="4.3"/>
<circle cx="812.8" cy="458.4" r="4.3"/>
<circle cx="812.8" cy="462.1" r="4.3"/>
<circle cx="812.8" cy="469.6" r="4.3"/>
<circle cx="816.3" cy="382.3" r="4.3"/>
<circle cx="816.3" cy="423.5" r="4.3"/>
<circle cx="824.5" cy="382.7" r="4.3"/>
<circle cx="824.5" cy="394.7" r="4.3"/>
<circle cx="821.3" cy="390.2" r="4.3"/>
<circle cx="821.3" cy="401.8" r="4.3"/>
<circle cx="826.9" cy="409.7" r="4.3"/>
<circle cx="826.9" cy="443.4" r="4.3"/>
<circle cx="842.4" cy="390.9" r="4.3"/>
<circle cx="842.4" cy="394.7" r="4.3"/>
<circle cx="842.4" cy="398.4" r="4.3"/>
<circle cx="842.4" cy="402.2" r="4.3"/>
<circle cx="842.4" cy="405.9" r="4.3"/>
<circle cx="842.4" cy="409.7" r="4.3"/>
<circle cx="842.4" cy="420.9" r="4.3"/>
<circle cx="842.4" cy="450.9" r="4.3"/>
<circle cx="842.4" cy="458.4" r="4.3"/>
<circle cx="842.4" cy="473.3" r="4.3"/>
<circle cx="851.8" cy="444.9" r="4.3"/>
<circle cx="854.1" cy="428.4" r="4.3"/>
<circle cx="854.1" cy="432.1" r="4.3"/>
<circle cx="854.1" cy="443.4" r="4.3"/>
<circle cx="857.1" cy="353.5" r="4.3"/>
<circle cx="868.7" cy="331.0" r="4.3"/>
<circle cx="875.2" cy="337.7" r="4.3"/>
<circle cx="880.8" cy="334.0" r="4.3"/>
<circle cx="880.8" cy="382.3" r="4.3"/>
<circle cx="872.0" cy="375.9" r="4.3"/>
<circle cx="872.0" cy="379.7" r="4.3"/>
<circle cx="872.0" cy="383.4" r="4.3"/>
<circle cx="872.0" cy="398.4" r="4.3"/>
<circle cx="872.0" cy="409.7" r="4.3"/>
<circle cx="872.0" cy="420.9" r="4.3"/>
<circle cx="872.0" cy="432.1" r="4.3"/>
<circle cx="872.0" cy="435.9" r="4.3"/>
<circle cx="872.0" cy="454.6" r="4.3"/>
<circle cx="872.0" cy="469.6" r="4.3"/>
<circle cx="886.7" cy="387.2" r="4.3"/>
<circle cx="886.7" cy="468.9" r="4.3"/>
<circle cx="893.2" cy="409.3" r="4.3"/>
<circle cx="901.6" cy="398.4" r="4.3"/>
<circle cx="901.6" cy="409.7" r="4.3"/>
<circle cx="901.6" cy="413.4" r="4.3"/>
<circle cx="901.6" cy="417.1" r="4.3"/>
<circle cx="901.6" cy="443.4" r="4.3"/>
<circle cx="901.6" cy="450.9" r="4.3"/>
<circle cx="901.6" cy="454.6" r="4.3"/>
<circle cx="901.6" cy="462.1" r="4.3"/>
<circle cx="901.6" cy="465.9" r="4.3"/>
<circle cx="901.6" cy="488.3" r="4.3"/>
<circle cx="910.1" cy="378.9" r="4.3"/>
<circle cx="910.1" cy="416.8" r="4.3"/>
<circle cx="918.7" cy="293.5" r="4.3"/>
<circle cx="931.2" cy="353.5" r="4.3"/>
<circle cx="931.2" cy="409.3" r="4.3"/>
<circle cx="931.2" cy="416.8" r="4.3"/>
<circle cx="931.2" cy="454.6" r="4.3"/>
<circle cx="928.7" cy="473.0" r="4.3"/>
<circle cx="931.2" cy="497.3" r="4.3"/>
<circle cx="939.1" cy="446.4" r="4.3"/>
<circle cx="944.1" cy="446.4" r="4.3"/>
<circle cx="960.8" cy="394.7" r="4.3"/>
<circle cx="960.8" cy="409.3" r="4.3"/>
<circle cx="960.8" cy="420.9" r="4.3"/>
<circle cx="960.8" cy="428.4" r="4.3"/>
<circle cx="960.8" cy="439.6" r="4.3"/>
<circle cx="960.8" cy="458.4" r="4.3"/>
<circle cx="958.3" cy="417.1" r="4.3"/>
<circle cx="952.4" cy="394.7" r="4.3"/>
<circle cx="975.2" cy="462.1" r="4.3"/>
<circle cx="977.6" cy="446.4" r="4.3"/>
<circle cx="983.2" cy="409.3" r="4.3"/>
<circle cx="990.4" cy="413.4" r="4.3"/>
<circle cx="990.4" cy="417.1" r="4.3"/>
<circle cx="990.4" cy="432.1" r="4.3"/>
<circle cx="990.4" cy="450.9" r="4.3"/>
<circle cx="990.4" cy="458.4" r="4.3"/>
<circle cx="990.4" cy="473.3" r="4.3"/>
<circle cx="1001.9" cy="432.1" r="4.3"/>
<circle cx="1020.0" cy="413.4" r="4.3"/>
<circle cx="1020.0" cy="435.5" r="4.3"/>
<circle cx="1020.0" cy="462.1" r="4.3"/>
<circle cx="1020.0" cy="480.5" r="4.3"/>
<circle cx="1013.7" cy="409.7" r="4.3"/>
<circle cx="1026.4" cy="401.4" r="4.3"/>
<circle cx="1049.6" cy="431.8" r="4.3"/>
<circle cx="1084.1" cy="454.2" r="4.3"/>
<circle cx="1108.8" cy="443.4" r="4.3"/>
<circle cx="1138.4" cy="446.4" r="4.3"/>
<circle cx="1158.4" cy="476.7" r="4.3"/>
<circle cx="546.4" cy="375.9" r="4.3"/>
<circle cx="546.4" cy="409.7" r="4.3"/>
<circle cx="546.4" cy="413.4" r="4.3"/>
<circle cx="546.4" cy="417.1" r="4.3"/>
<circle cx="552.2" cy="387.2" r="4.3"/>
<circle cx="560.8" cy="413.4" r="4.3"/>
</g><g fill="#fb1b13">
<circle cx="279.5" cy="273.7" r="9"/>
<circle cx="487.2" cy="165.0" r="9"/>
<circle cx="900.8" cy="111.3" r="9"/>
<circle cx="881.2" cy="498.3" r="9"/>
</g><g fill="#4b9d29">
<circle cx="280.8" cy="306.0" r="8.8"/>
<circle cx="487.5" cy="279.2" r="8.8"/>
<circle cx="902.5" cy="293.8" r="8.8"/>
<circle cx="881.2" cy="517.0" r="8.8"/>
</g>
<g transform="translate(578,655) scale(1.08,1)"><text id="xt" class="ttl" x="0" y="0">DIT<tspan font-size="11.5" dy="-8.5">®</tspan><tspan dy="8.5"> (% caída de conductividad del vino)</tspan></text></g>
<g transform="translate(55.3,403) rotate(-90) scale(1.05,1)"><text id="yt" class="ttl" x="0" y="0">Ca<tspan font-size="16.5" dy="-6.5" dx="1.5">2+</tspan><tspan dy="6.5"> (mg/l)</tspan></text></g>
<circle cx="1357.3" cy="332" r="4.4" fill="#000"/><text id="l1" class="lg" x="1370" y="333.2" textLength="82.3" lengthAdjust="spacingAndGlyphs">Antes ED</text>
<circle cx="1357.3" cy="361.2" r="4.4" fill="#a0a0a0"/><text id="l2" class="lg" x="1370.3" y="365.2" textLength="111" lengthAdjust="spacingAndGlyphs">Después ED</text>
</svg></body></html>
